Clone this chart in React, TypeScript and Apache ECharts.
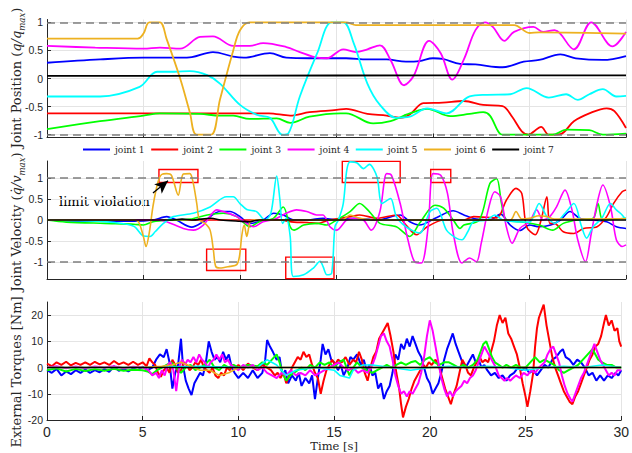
import React, { useEffect, useRef } from 'react';
import * as echarts from 'echarts';

const jointNames = ['joint 1', 'joint 2', 'joint 3', 'joint 4', 'joint 5', 'joint 6', 'joint 7'];
const jointColors = ['#0000ff', '#ff0000', '#00ff00', '#ff00ff', '#00ffff', '#edb120', '#000000'];

// Joint positions (q/qmax) : [time s, value]
const pos1 = [[0,0.28],[2.75,0.34],[5,0.37],[6.9,0.37],[7.5,0.38],[8.6,0.47],[9.65,0.39],[10.2,0.37],[11.55,0.45],[12.4,0.37],[13.6,0.36],[15.5,0.36],[16.6,0.34],[17.6,0.34],[18.6,0.3],[19.3,0.31],[20.0,0.36],[20.5,0.35],[21.4,0.26],[22.2,0.25],[23.6,0.2],[24.7,0.3],[25.5,0.33],[26.6,0.43],[27.4,0.36],[28.8,0.33],[30,0.4]];
const pos2 = [[0,-0.62],[5,-0.62],[10,-0.62],[11.5,-0.62],[12.6,-0.66],[13.6,-0.6],[15.0,-0.56],[15.5,-0.54],[16.6,-0.63],[17.6,-0.66],[18.3,-0.7],[18.8,-0.64],[19.5,-0.44],[20.5,-0.43],[21.6,-0.4],[22.6,-0.47],[23.6,-0.49],[24.1,-0.68],[24.6,-0.94],[24.95,-1.0],[25.2,-0.95],[25.6,-0.86],[26.0,-1.0],[26.6,-0.99],[27.3,-0.76],[28.1,-0.62],[29.0,-0.53],[29.4,-0.58],[30,-0.88]];
const pos3 = [[0,-0.9],[2.75,-0.76],[5,-0.66],[5.85,-0.62],[7.93,-0.63],[8.96,-0.66],[9.65,-0.66],[10.5,-0.72],[11.9,-0.71],[12.6,-0.79],[13.6,-0.68],[15.2,-0.62],[15.5,-0.62],[16.9,-0.8],[17.8,-0.76],[18.5,-0.66],[18.8,-0.62],[19.7,-0.54],[20.9,-0.67],[21.9,-0.63],[22.6,-0.6],[22.95,-0.66],[23.5,-0.99],[23.7,-1.0],[26.2,-1.0],[26.9,-0.91],[28.1,-0.92],[28.8,-1.0],[30,-0.98]];
const pos4 = [[0,0.58],[2.5,0.55],[5,0.53],[5.85,0.55],[6.9,0.53],[7.93,0.74],[8.6,0.75],[9.65,0.58],[10.5,0.58],[11.2,0.63],[12.4,0.56],[13.1,0.47],[14.0,0.37],[14.5,0.36],[15.35,0.52],[16.0,0.47],[16.6,0.52],[17.25,0.59],[17.8,0.33],[18.5,-0.12],[19.0,0.05],[19.8,0.67],[20.4,0.45],[21.0,-0.02],[21.6,0.34],[22.2,0.86],[22.7,1.0],[23.1,0.92],[23.7,0.67],[24.2,0.83],[25.2,0.92],[25.7,0.83],[26.3,0.86],[27.3,0.52],[28.2,1.0],[29.3,0.57],[30,0.83]];
const pos5 = [[0,-0.32],[2.75,-0.32],[4.8,-0.15],[5.7,0.12],[6.6,0.12],[7.4,0.13],[8.3,0.06],[8.96,-0.09],[10,-0.47],[10.9,-0.65],[11.55,-0.7],[12.2,-1.0],[12.5,-0.98],[13.1,-0.32],[14.0,0.45],[14.75,1.0],[15.35,1.0],[15.9,0.62],[16.6,-0.09],[17.25,-0.47],[18.1,-0.7],[18.8,-0.68],[19.7,-0.53],[20.7,-0.62],[21.9,-0.32],[22.8,-0.29],[24.0,-0.28],[24.85,-0.17],[26.0,-0.34],[26.9,-0.28],[27.5,-0.38],[28.1,-0.28],[28.8,-0.19],[29.5,-0.32],[30,-0.31]];
const pos6 = [[0,0.71],[4.7,0.71],[5.0,0.8],[5.3,1.0],[5.85,1.0],[6.2,0.7],[6.9,0],[7.4,-0.6],[7.75,-1.0],[8.5,-1.0],[8.96,-0.38],[9.65,0.5],[10.0,0.86],[10.5,1.0],[15.5,1.0],[16.0,0.95],[24.2,0.95],[25.0,0.81],[25.5,0.82],[30,0.8]];
const pos7 = [[0,0.045],[10,0.05],[20,0.055],[30,0.055]];

// Joint velocities (qdot/vmax)
const vel1 = [[0,0],[2,-0.03],[4.5,-0.03],[5.5,0],[6.2,0.08],[6.7,0],[7.5,-0.17],[8.1,-0.04],[8.96,0.2],[9.48,0.2],[10,0.08],[10.5,-0.08],[11.2,0],[11.75,0.16],[12.24,0.12],[12.8,0],[13.5,0],[14.3,0.04],[15,0],[15.9,0.04],[17.1,0],[18.3,0.12],[18.8,-0.04],[19.3,-0.12],[20.2,0.06],[21.05,0.22],[21.6,0.12],[22.25,0.02],[22.95,0],[23.5,0.14],[24,-0.12],[24.5,-0.25],[25,-0.12],[25.5,-0.16],[26.1,-0.12],[26.6,0],[27.1,0.2],[27.6,0.04],[28.3,0],[29,-0.04],[29.5,-0.16],[30,-0.2]];
const vel2 = [[0,0],[5,0],[10,0],[12,0],[12.8,-0.05],[13.5,-0.06],[14,-0.08],[14.65,0],[15.7,0.08],[16.2,0.12],[17.1,0.04],[18.1,0.12],[18.6,-0.12],[19.15,-0.35],[19.7,-0.16],[20.55,0],[21.6,0],[22.1,0.08],[23.3,0.05],[23.8,0.47],[24.3,0.75],[24.6,0.63],[24.85,-0.16],[25.3,-0.35],[25.6,0],[25.9,0.55],[26.05,-0.08],[26.3,-0.08],[26.75,-0.28],[27.3,-0.32],[27.8,-0.2],[28.5,-0.16],[29,0.08],[29.35,0.39],[29.8,0.67],[30,0.71]];
const vel3 = [[0,0],[1,-0.05],[3,-0.08],[4.5,-0.1],[5,-0.12],[5.5,-0.04],[6.5,0],[7.4,0.02],[8.3,0.12],[9.13,0.16],[9.83,0.08],[10.52,-0.16],[11,-0.04],[11.73,0.04],[12.24,0.31],[12.6,-0.16],[12.8,-0.24],[13.3,-0.12],[14,-0.08],[14.5,-0.12],[15,0],[15.7,0.2],[16.2,0.39],[16.7,0.2],[17.25,-0.08],[18.1,-0.16],[18.8,-0.39],[19.3,-0.08],[20.1,0.35],[20.55,0.28],[21.05,0],[21.4,-0.2],[21.6,-0.12],[22.4,0],[22.95,0.87],[23.3,0.98],[23.55,0.39],[23.8,0],[24.5,-0.04],[25.5,-0.12],[26.2,-0.24],[26.75,-0.08],[27.5,0],[28.3,0.04],[28.55,0.39],[28.8,0],[29.5,0.02],[30,0.04]];
const vel4 = [[0,0],[5,0],[5.8,0],[6.2,-0.04],[7.06,-0.2],[7.58,-0.24],[8.1,-0.12],[8.8,0.24],[9.13,0.2],[9.83,0.08],[10.2,-0.04],[10.7,-0.16],[11.2,-0.04],[11.8,0.02],[12.4,0.16],[12.93,0.24],[13.46,0.2],[13.97,0.12],[14.3,0.12],[14.66,-0.16],[15.0,-0.24],[15.53,0],[16.0,0.04],[16.4,0],[16.8,-0.24],[17.25,0.2],[17.6,1.1],[17.85,1.06],[18.3,0.39],[18.7,-0.47],[19.07,-1.0],[19.4,-1.02],[19.75,-0.16],[20.0,1.1],[20.4,1.06],[20.75,0.63],[21.05,-0.32],[21.5,-1.02],[21.9,-0.9],[22.25,-0.99],[22.5,-0.55],[22.86,0.24],[23.2,0.67],[23.5,0.55],[23.8,-0.16],[24.1,-0.55],[24.5,-0.2],[25.0,-0.04],[25.37,0.24],[25.7,0],[26.05,0.08],[26.4,0.31],[26.84,0.71],[27.2,0.24],[27.5,-0.47],[27.9,-0.99],[28.2,-0.32],[28.5,0.39],[28.8,0.83],[29.2,0.31],[29.5,-0.47],[29.8,-0.63],[30,-0.59]];
const vel5 = [[0,0],[2,-0.02],[3.5,-0.06],[4.5,-0.15],[5,-0.38],[5.34,-0.39],[5.6,-0.28],[6.03,-0.08],[6.55,0.08],[7.58,0.16],[8.45,0.31],[9.3,0.55],[9.65,0.55],[10.0,0.39],[10.35,0.25],[10.86,0.2],[11.3,0],[11.6,0.16],[11.9,1.04],[12.07,0.47],[12.2,-0.08],[12.4,0.04],[12.6,-0.39],[12.76,-1.34],[13.3,-1.3],[13.8,-1.14],[14.15,-0.98],[14.3,-1.1],[14.5,-1.3],[14.75,-1.26],[14.92,-0.16],[15.1,0],[15.35,0.39],[15.53,1.18],[15.7,1.38],[16.05,1.36],[16.4,1.22],[16.7,1.32],[17.1,1.02],[17.35,0.39],[17.8,0.51],[18.1,0.08],[18.6,-0.16],[19.3,-0.31],[19.85,0.2],[20.2,0.28],[20.7,-0.24],[21.2,-0.43],[21.5,-0.47],[21.8,-0.28],[22.1,-0.04],[22.8,0],[23.2,0.12],[23.6,0],[24.3,-0.04],[25.0,-0.05],[25.5,0.39],[25.9,0.08],[26.3,-0.08],[26.84,0.16],[27.3,0.39],[27.7,-0.16],[27.96,-0.43],[28.3,-0.16],[28.74,0.04],[29.2,0.39],[29.5,0.24],[29.8,0.12],[30,0]];
const vel6 = [[0,0],[4.5,0],[4.75,-0.05],[5.0,-0.4],[5.13,-0.63],[5.3,-0.3],[5.5,0.35],[5.75,0.9],[5.94,1.08],[6.2,1.1],[6.45,1.06],[6.8,0.59],[7.06,1.09],[7.4,1.1],[7.58,0.87],[7.76,0.39],[7.9,0],[8.19,-0.08],[8.45,-0.24],[8.62,-0.71],[8.74,-1.1],[8.96,-1.14],[9.48,-1.1],[9.83,-1.06],[9.97,-0.87],[10.1,-0.35],[10.22,-0.12],[10.35,-0.39],[10.52,-0.04],[10.7,0],[15.3,0],[15.7,0.12],[16.2,0.04],[17,0],[24.0,0],[24.3,0.2],[24.6,0.02],[25.0,0.04],[25.5,0.1],[25.9,0.08],[26.3,0.02],[30,0.03]];
const vel7 = [[0,0],[6.5,0],[7,0.02],[7.5,0],[8.5,0.04],[9,0],[10,-0.03],[10.5,-0.04],[11,0],[30,0]];

// External torques [Nm]
const tq1 = [[0,-1],[0.25,-2],[0.5,-0.5],[0.75,-3],[1,-1.5],[1.25,-2.5],[1.5,-1],[1.75,-2],[2,-0.8],[2.25,-2],[2.5,-1],[2.75,-1.8],[3,-0.6],[3.25,-1.6],[3.5,0.5],[3.75,-1.2],[4,-0.5],[4.25,-1.5],[4.5,-0.3],[4.75,-1],[5,0.3],[5.25,-1],[5.5,0],[5.7,3],[5.9,5],[6.1,4],[6.25,7],[6.4,2],[6.55,-8],[6.7,-2],[6.85,1],[7,11],[7.1,1],[7.25,-5],[7.4,-8],[7.55,-10.5],[7.7,-6],[7.85,-4],[8,-2],[8.15,-3],[8.3,2],[8.45,10],[8.6,6],[8.75,3],[8.9,4],[9.05,2],[9.2,6],[9.35,3],[9.5,5],[9.65,0],[9.8,-2],[10,-4],[10.25,-2],[10.5,-4],[10.75,-1],[11,-4],[11.25,-2],[11.4,3],[11.5,10.5],[11.65,8],[11.8,6],[12,3],[12.15,4],[12.3,-3],[12.45,-1],[12.6,-6],[12.8,-3],[13,-5],[13.15,-2],[13.3,-7],[13.5,-4],[13.7,-6],[13.85,-3],[14,-12],[14.15,-4],[14.3,3],[14.4,9],[14.55,5],[14.7,7],[14.85,3],[15,2],[15.2,-1],[15.35,1],[15.5,-3],[15.7,0],[15.85,4],[16,3],[16.2,5],[16.4,1],[16.55,3],[16.7,-1],[16.85,1],[17,-3],[17.15,-2],[17.3,-8],[17.45,-6],[17.6,-12],[17.75,-9],[17.9,-7],[18.05,-2],[18.2,5],[18.35,3],[18.5,9],[18.65,7],[18.8,11],[18.95,8],[19.1,12],[19.25,9],[19.4,6],[19.55,4],[19.7,0],[19.85,-4],[20,-6],[20.15,-10],[20.3,-8],[20.45,-6],[20.6,-2],[20.75,3],[20.9,7],[21.05,10],[21.2,13],[21.35,9],[21.5,6],[21.65,3],[21.8,0],[21.95,1],[22.1,3],[22.25,5],[22.4,2],[22.55,3],[22.7,0],[22.85,1],[23,-1],[23.2,-3],[23.4,-2],[23.6,-4],[23.8,-3],[24,-5],[24.2,-3],[24.4,-2],[24.6,0],[24.8,-1],[25,0],[25.2,-2],[25.4,-1],[25.6,-3],[25.8,-1],[26,1],[26.2,0],[26.4,3],[26.6,4],[26.8,6],[26.95,7],[27.1,4],[27.3,3],[27.5,1],[27.7,3],[27.9,2],[28.1,0],[28.3,-3],[28.5,-2],[28.7,-5],[28.9,-3],[29.1,-5],[29.3,-3],[29.5,-4],[29.7,-2],[29.85,-3],[30,-1]];
const tq2 = [[0,1.5],[0.25,0.5],[0.5,2],[0.75,1],[1,2.2],[1.25,0.8],[1.5,1.8],[1.75,1],[2,2],[2.25,1],[2.5,2.2],[2.75,1.2],[3,2],[3.25,1],[3.5,2.5],[3.75,1.2],[4,2],[4.25,1],[4.5,2.2],[4.75,1],[5,2],[5.2,0.5],[5.35,3.5],[5.5,2],[5.65,1],[5.8,-2],[5.95,-3.5],[6.1,-1],[6.25,0],[6.4,-2],[6.55,3],[6.7,1],[6.85,-2],[7,-1],[7.15,2],[7.3,1],[7.45,-1],[7.6,0],[7.75,2],[7.9,1],[8.05,3],[8.2,0],[8.35,-1],[8.5,-2],[8.65,0],[8.8,-3],[8.95,-4],[9.1,-2],[9.25,-3],[9.4,0],[9.55,-1],[9.7,1],[9.85,0],[10,1],[10.25,-1],[10.5,1.5],[10.75,0],[11,-1],[11.25,1],[11.5,0],[11.7,-1],[11.9,-3],[12.05,-2],[12.2,-4],[12.35,-2],[12.5,-6],[12.65,-3],[12.8,0],[12.95,2],[13.1,4],[13.25,3],[13.4,6],[13.55,4],[13.7,5],[13.85,1],[14,-2],[14.15,-4],[14.3,-10],[14.45,-5],[14.6,-1],[14.75,1],[14.9,3],[15.05,1],[15.2,3],[15.4,2],[15.6,4],[15.8,1],[16,3],[16.15,2],[16.3,6],[16.45,3],[16.6,-2],[16.75,-5],[16.9,0],[17.05,4],[17.2,6],[17.35,11],[17.5,13],[17.65,15],[17.8,17],[17.95,12],[18.1,6],[18.25,-2],[18.4,-8],[18.5,-14],[18.6,-19],[18.75,-15],[18.9,-12],[19.05,-8],[19.2,-5],[19.35,-3],[19.5,-1],[19.65,1],[19.8,0],[19.95,2],[20.1,1],[20.3,3],[20.5,0],[20.65,-4],[20.8,-8],[20.95,-11],[21.1,-14],[21.25,-10],[21.4,-7],[21.55,-2],[21.7,3],[21.85,1],[22,-2],[22.15,-3],[22.3,0],[22.45,2],[22.6,4],[22.75,2],[22.9,3],[23.05,2],[23.2,6],[23.35,10],[23.5,16],[23.65,20],[23.8,17],[23.95,19],[24.1,13],[24.25,11],[24.4,8],[24.55,5],[24.7,0],[24.85,-6],[25,-11],[25.1,-15],[25.25,-9],[25.4,-2],[25.5,8],[25.6,15],[25.7,19],[25.85,22],[25.95,24],[26.1,16],[26.25,10],[26.4,4],[26.55,0],[26.7,-3],[26.85,-6],[27,-9],[27.15,-11],[27.3,-13],[27.45,-14],[27.6,-11],[27.75,-9],[27.9,-6],[28.05,-3],[28.2,0],[28.35,3],[28.5,5],[28.65,8],[28.8,9],[28.95,12],[29.1,17],[29.2,20],[29.35,16],[29.5,18],[29.65,14],[29.8,15],[29.9,10],[30,8]];
const tq3 = [[0,-1],[0.5,-0.3],[1,-1.5],[1.5,-0.5],[2,-1.3],[2.5,-0.6],[3,-1.2],[3.5,-0.5],[4,-1.2],[4.5,-0.8],[5,-1],[5.25,-1.5],[5.5,-2.5],[5.75,-1],[6,0],[6.25,1],[6.5,2],[6.75,0],[7,-2],[7.25,0],[7.5,1],[7.75,-1],[8,0],[8.25,1],[8.5,3],[8.75,0],[9,-1],[9.25,1],[9.5,0],[9.75,1],[10,0],[10.5,1],[11,0.5],[11.25,2],[11.5,1],[11.75,3],[12,5],[12.15,2],[12.3,-2],[12.5,-5],[12.7,-3],[12.9,-2],[13.1,-1],[13.3,0],[13.5,-1],[13.75,1],[14,0],[14.25,2],[14.5,1],[14.75,2],[15,0],[15.25,2],[15.5,3],[15.65,0],[15.8,-3],[16,0],[16.2,2],[16.45,0],[16.7,-1],[17,-2],[17.25,-1],[17.5,0],[17.75,1],[18,0],[18.25,1],[18.5,2],[18.75,1],[19,2],[19.25,2.5],[19.5,1],[19.75,3],[20,4],[20.25,2],[20.5,1],[20.75,2],[21,2],[21.25,1],[21.5,0],[21.75,1],[22,0],[22.25,1],[22.5,3],[22.65,6],[22.8,9],[22.95,10],[23.1,7],[23.25,4],[23.4,2],[23.6,1],[23.8,0],[24,1],[24.25,0],[24.5,1],[24.75,0],[25,0],[25.25,2],[25.5,4],[25.75,2],[26,3],[26.25,2],[26.5,1],[26.75,-1],[27,-2],[27.25,-1],[27.5,0],[27.75,1],[28,3],[28.25,5],[28.5,7],[28.65,5],[28.8,3],[29,2],[29.25,1],[29.5,1],[29.75,0],[30,0]];
const tq4 = [[0,0],[0.5,0.5],[1,-0.3],[1.5,0.4],[2,-0.3],[2.5,0.4],[3,0],[3.5,0.5],[4,-0.3],[4.5,0.3],[5,0],[5.3,-1],[5.5,-3],[5.7,-2],[5.85,-4],[6,-1],[6.15,-3],[6.3,1],[6.45,2],[6.6,-1],[6.75,-9],[6.9,0],[7.05,3],[7.2,1],[7.35,3],[7.5,2],[7.65,4],[7.8,2],[7.95,5],[8.1,3],[8.25,2],[8.4,0],[8.55,2],[8.7,3],[8.85,5],[9,3],[9.15,5],[9.3,2],[9.45,3],[9.6,1],[9.8,0],[10,-1],[10.25,1],[10.5,0],[10.75,1],[11,-1],[11.25,0],[11.5,-2],[11.75,-3],[12,-4],[12.25,-2],[12.5,-3],[12.75,-1],[13,-3],[13.25,-2],[13.5,-3],[13.75,-1],[14,-3],[14.25,-2],[14.5,-1],[14.75,0],[15,1],[15.25,2],[15.5,0],[15.75,-1],[16,0],[16.25,-2],[16.5,-1],[16.75,-2],[17,1],[17.15,4],[17.3,8],[17.45,12],[17.6,13],[17.75,10],[17.9,8],[18.05,3],[18.2,-3],[18.35,-7],[18.5,-10],[18.65,-9],[18.8,-11],[18.95,-9],[19.1,-10],[19.25,-8],[19.4,-6],[19.55,-2],[19.7,4],[19.85,12],[20,18],[20.15,14],[20.3,8],[20.45,2],[20.6,-4],[20.75,-8],[20.9,-11],[21.05,-9],[21.2,-11],[21.35,-9],[21.5,-8],[21.65,-7],[21.8,-5],[21.95,-6],[22.1,-4],[22.25,-3],[22.4,-1],[22.55,2],[22.7,5],[22.85,8],[23,6],[23.15,4],[23.3,2],[23.45,0],[23.6,-3],[23.75,-4],[23.9,-5],[24.05,-4],[24.2,-5],[24.35,-4],[24.5,-3],[24.7,-4],[24.9,-2],[25.1,-3],[25.3,-1],[25.5,-2],[25.7,0],[25.85,1],[26,2],[26.15,5],[26.3,7],[26.45,8],[26.6,5],[26.75,2],[26.9,-3],[27.05,-7],[27.2,-10],[27.35,-12],[27.45,-13],[27.6,-10],[27.75,-7],[27.9,-4],[28.05,-2],[28.2,1],[28.35,4],[28.5,7],[28.6,9],[28.75,6],[28.9,3],[29.05,1],[29.2,-1],[29.35,-3],[29.5,-2],[29.65,-3],[29.8,-1],[30,-1]];
const tq5 = [[0,0],[5,0],[8,0.5],[10,0],[11,0],[11.5,3],[12,1],[12.5,-3],[13,-1],[14,0],[15,-1],[15.3,-3],[15.8,-4],[16,-1],[16.5,1],[17,1],[18,0],[19,-1],[20,0],[21,0.5],[22,0],[23,0.5],[24,0],[25,-1],[26,0],[27,0.5],[28,0],[29,1],[30,0]];
const tq6 = [[0,0],[5,0],[6,0.5],[6.5,1],[7,2],[7.5,0.5],[8,-1],[8.5,-1],[9,-3],[9.5,-2],[10,0],[12,0],[15,0],[30,0]];
const tq7 = [[0,0],[30,0]];

const positions = [pos1, pos2, pos3, pos4, pos5, pos6, pos7];
const velocities = [vel1, vel2, vel3, vel4, vel5, vel6, vel7];
const torques = [tq1, tq2, tq3, tq4, tq5, tq6, tq7];

// annotation boxes in velocity panel: [t0, v0, t1, v1]
const limitBoxes = [[5.8, 1.2, 7.82, 0.89], [8.27, -0.69, 10.3, -1.2], [12.37, -0.88, 14.87, -1.39], [15.3, 1.39, 18.3, 0.89], [19.88, 1.2, 20.92, 0.89]];
const arrowFrom = [5.49, 0.64];
const arrowTo = [6.27, 0.93];
const limitValues = [1, -1];

const SERIF = 'DejaVu Serif';
const SANS = 'Liberation Sans, Arial, Helvetica, sans-serif';
const AXIS_COLOR = '#262626';

export default function App() {
  const ref = useRef<HTMLDivElement>(null);
  useEffect(() => {
    document.body.style.margin = '0';
    const chart = echarts.init(ref.current!, undefined, { renderer: 'svg' });
    const grids = [
      { left: 47, right: 6, top: 19.5, height: 118 },
      { left: 47, right: 6, top: 161, height: 118 },
      { left: 47, right: 6, top: 302, height: 118 },
    ];
    const xAxes = grids.map((_, i) => ({
      type: 'value', gridIndex: i, min: 0, max: 30, interval: 5,
      axisLine: { show: true, onZero: false, lineStyle: { color: AXIS_COLOR, width: 1 } },
      axisTick: { show: true, inside: true, length: 4, lineStyle: { color: AXIS_COLOR } },
      axisLabel: { show: i === 2, margin: 5, color: AXIS_COLOR, fontFamily: SANS, fontSize: 14 },
      splitLine: { show: true, lineStyle: { color: '#e4e4e4', width: 1 } },
      name: i === 2 ? 'Time [s]' : '', nameLocation: 'middle', nameGap: 19,
      nameTextStyle: { fontFamily: SERIF, fontSize: 11.5, color: AXIS_COLOR },
    }));
    const yCommon = {
      type: 'value',
      axisLine: { show: true, onZero: false, lineStyle: { color: AXIS_COLOR, width: 1 } },
      axisTick: { show: true, inside: true, length: 4, lineStyle: { color: AXIS_COLOR } },
      axisLabel: { margin: 4, color: AXIS_COLOR, fontFamily: SANS, fontSize: 10.5, showMinLabel: false, showMaxLabel: false },
      splitLine: { show: true, showMinLine: false, showMaxLine: false, lineStyle: { color: '#e4e4e4', width: 1 } },
    };
    const yAxes = [
      { ...yCommon, gridIndex: 0, min: -1.05, max: 1.05 },
      { ...yCommon, gridIndex: 1, min: -1.4, max: 1.4 },
      { ...yCommon, gridIndex: 2, min: -20, max: 25, interval: 10, axisLabel: { ...yCommon.axisLabel, showMinLabel: true } },
    ];
    const limitMarkLine = {
      silent: true, symbol: 'none', animation: false,
      label: { show: false },
      lineStyle: { color: '#7f7f7f', width: 1.5, type: [8, 5] },
      data: limitValues.map((v) => ({ yAxis: v })),
    };
    const series: any[] = [];
    positions.forEach((d, j) => {
      series.push({
        type: 'line', name: jointNames[j], xAxisIndex: 0, yAxisIndex: 0, data: d,
        showSymbol: false, smooth: 0.35, color: jointColors[j],
        lineStyle: { width: 1.8, color: jointColors[j] },
        markLine: j === 6 ? limitMarkLine : undefined,
      });
    });
    velocities.forEach((d, j) => {
      const s: any = {
        type: 'line', name: jointNames[j], xAxisIndex: 1, yAxisIndex: 1, data: d,
        showSymbol: false, smooth: 0.3, color: jointColors[j],
        lineStyle: { width: 1.6, color: jointColors[j] },
      };
      if (j === 5) {
        s.markLine = {
          silent: true, animation: false, label: { show: false },
          lineStyle: { color: '#000000', width: 1.3, type: 'solid' },
          data: [[{ coord: arrowFrom, symbol: 'none' }, { coord: arrowTo, symbol: 'arrow', symbolSize: [9, 13] }]],
        };
      }
      if (j === 6) {
        s.markLine = limitMarkLine;
        s.markArea = {
          silent: true,
          itemStyle: { color: 'rgba(0,0,0,0)', borderColor: '#ff0000', borderWidth: 1.4 },
          data: limitBoxes.map((b) => [{ coord: [b[0], b[1]] }, { coord: [b[2], b[3]] }]),
        };
      }
      series.push(s);
    });
    torques.forEach((d, j) => {
      series.push({
        type: 'line', name: jointNames[j], xAxisIndex: 2, yAxisIndex: 2, data: d,
        showSymbol: false, smooth: false, color: jointColors[j],
        lineStyle: { width: j >= 4 ? 1.6 : 2, color: jointColors[j] },
      });
    });
    const rich = {
      r: { fontFamily: SERIF, fontSize: 13, lineHeight: 20, color: AXIS_COLOR },
      i: { fontFamily: SERIF, fontSize: 13, fontStyle: 'italic', lineHeight: 20, color: AXIS_COLOR },
      s: { fontFamily: SERIF, fontSize: 8.5, fontStyle: 'italic', lineHeight: 9, verticalAlign: 'bottom', color: AXIS_COLOR },
    };
    const yLabel = (text: string, y: number) => ({
      type: 'text', x: 16, y, rotation: Math.PI / 2,
      style: { text, rich, align: 'center', verticalAlign: 'middle', fontFamily: SERIF, fontSize: 13, fill: AXIS_COLOR },
    });
    chart.setOption({
      animation: false,
      grid: grids,
      xAxis: xAxes,
      yAxis: yAxes,
      legend: {
        data: jointNames, top: 145, left: 83, padding: 0, icon: 'rect', itemWidth: 27, itemHeight: 2,
        itemGap: 6.5, textStyle: { fontFamily: SERIF, fontSize: 9.2, color: AXIS_COLOR },
      },
      series,
      graphic: [
        yLabel('{r|Joint Position (}{i|q/q}{s|max}{r|)}', 78),
        yLabel('{r|Joint Velocity (}{i|q\u0307/v}{s|max}{r|)}', 222),
        yLabel('{r|External Torques [Nm]}', 372),
        {
          type: 'text', x: 59, y: 201,
          style: { text: 'limit violation', fontFamily: SERIF, fontSize: 13, fill: '#000000', align: 'left', verticalAlign: 'middle' },
        },
      ],
    });
    return () => chart.dispose();
  }, []);
  return <div ref={ref} style={{ position: 'fixed', left: 0, top: 0, width: 632, height: 453, background: '#fff' }} />;
}
